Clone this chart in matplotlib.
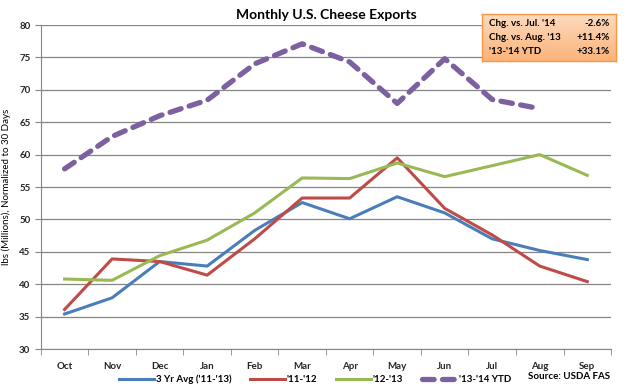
import numpy as np
import matplotlib
matplotlib.use("Agg")
import matplotlib.pyplot as plt

# ============================
# Data
# ============================
months = ["Oct", "Nov", "Dec", "Jan", "Feb", "Mar", "Apr", "May", "Jun", "Jul", "Aug", "Sep"]
avg_3yr = [35.4, 37.9, 43.5, 42.8, 48.3, 52.6, 50.1, 53.5, 51.0, 47.0, 45.2, 43.8]
y_11_12 = [36.1, 43.9, 43.5, 41.4, 47.0, 53.3, 53.3, 59.5, 51.7, 47.6, 42.8, 40.4]
y_12_13 = [40.8, 40.6, 44.4, 46.8, 51.0, 56.4, 56.3, 58.7, 56.6, 58.3, 60.0, 56.8]
y_13_14 = [57.8, 62.8, 66.0, 68.4, 74.0, 77.1, 74.3, 67.9, 74.8, 68.5, 67.1]

box_labels = ["Chg. vs. Jul. '14", "Chg. vs. Aug. '13", "'13-'14 YTD"]
box_values = ["-2.6%", "+11.4%", "+33.1%"]

plt.rcParams["font.family"] = ["Lato", "DejaVu Sans"]

fig = plt.figure(figsize=(6.28, 3.88), dpi=100)
ax = fig.add_axes([0.065, 0.1005, 0.908, 0.835])

x = np.arange(len(months))
ax.plot(x, avg_3yr, color="#4a7ebb", lw=2.2, label="3 Yr Avg ('11-'13)")
ax.plot(x, y_11_12, color="#be4b48", lw=2.2, label="'11-'12")
ax.plot(x, y_12_13, color="#98b954", lw=2.2, label="'12-'13")
ax.plot(x[:len(y_13_14)], y_13_14, color="#7d60a0", lw=3.8, dashes=(2.2, 1.6),
        dash_capstyle="round", label="'13-'14 YTD")

ax.set_xlim(-0.5, len(months) - 0.5)
ax.set_ylim(30, 80)
ax.set_yticks(np.arange(30, 81, 5))
ax.set_xticks(x)
ax.set_xticklabels(months)
ax.set_xticks(np.arange(-0.5, len(months)), minor=True)
ax.tick_params(axis="x", which="major", length=0, pad=9, labelsize=7)
ax.tick_params(axis="x", which="minor", length=4, color="#868686")
ax.tick_params(axis="y", length=4, color="#868686", labelsize=7)
for lab in ax.get_xticklabels() + ax.get_yticklabels():
    lab.set_fontweight("bold")
    lab.set_color("#262626")

ax.grid(axis="y", color="#868686", lw=0.9)
ax.set_axisbelow(True)
for s in ["top", "right"]:
    ax.spines[s].set_visible(False)
ax.spines["left"].set_color("#868686")
ax.spines["bottom"].set_color("#868686")

ax.set_ylabel("lbs (Millions), Normalized to 30 Days", fontsize=7, labelpad=6)
ax.set_title("Monthly U.S. Cheese Exports", fontsize=10, fontweight="bold", pad=4)

leg = fig.legend(loc="lower left", bbox_to_anchor=(0.18, -0.005), ncol=4, frameon=False,
                 fontsize=7, handlelength=3.6, columnspacing=1.9, handletextpad=0.2,
                 borderaxespad=0.2)
for t in leg.get_texts():
    t.set_fontweight("bold")
fig.text(0.972, 0.018, "Source: USDA FAS", ha="right", va="bottom", fontsize=7,
         fontweight="bold")

# Summary box (top right)
bx, by, bw, bh = 0.768, 0.843, 0.213, 0.122
grad = np.linspace(0, 1, 50).reshape(-1, 1)
gax = fig.add_axes([bx, by, bw, bh])
gax.imshow(grad, aspect="auto", cmap=matplotlib.colors.LinearSegmentedColormap.from_list(
    "o", ["#fddcc0", "#fbb37a"]), extent=[0, 1, 0, 1], origin="upper")
gax.set_xticks([])
gax.set_yticks([])
for s in gax.spines.values():
    s.set_color("#f79646")
    s.set_linewidth(1.0)
for i, (lab, val) in enumerate(zip(box_labels, box_values)):
    yy = 0.78 - i * 0.29
    gax.text(0.05, yy, lab, fontsize=7, fontweight="bold", va="center", ha="left")
    gax.text(0.95, yy, val, fontsize=7, fontweight="bold", va="center", ha="right")

fig.savefig("out.png", dpi=100)
plt.close(fig)
